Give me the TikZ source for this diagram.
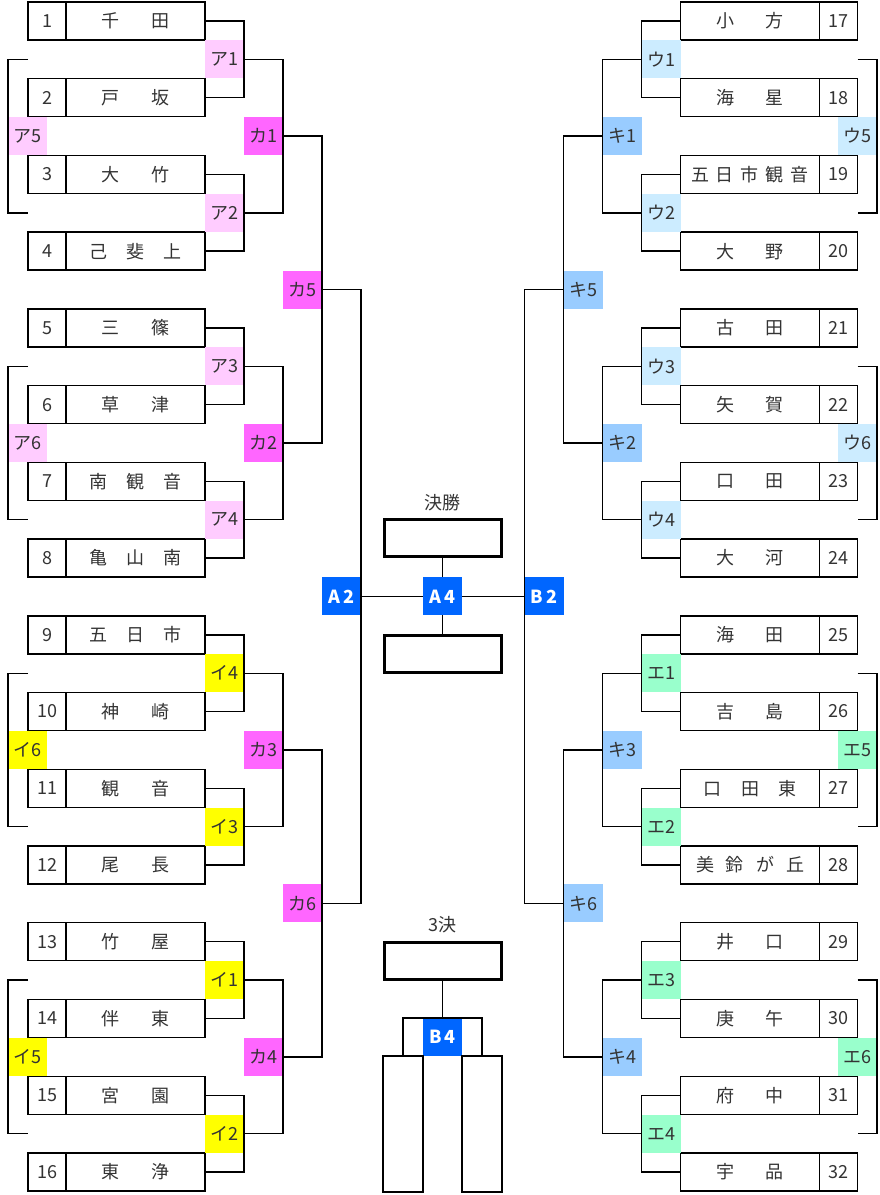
\documentclass[tikz,border=0pt]{standalone}
\usepackage{fontspec}
\setmainfont{Noto Sans CJK JP}
\usepackage{tikz}
\usetikzlibrary{positioning,calc}

\definecolor{clrA}{HTML}{FFCCFF}
\definecolor{clrKa}{HTML}{FF66FF}
\definecolor{clrI}{HTML}{FFFF00}
\definecolor{clrU}{HTML}{CCECFF}
\definecolor{clrKi}{HTML}{99CCFF}
\definecolor{clrE}{HTML}{99FFCC}
\definecolor{clrB}{HTML}{0066FF}

\newcommand{\nameii}[2]{#1\hspace{32pt}#2}
\newcommand{\nameiii}[3]{#1\hspace{19.5pt}#2\hspace{19.5pt}#3}
\newcommand{\nameiv}[4]{#1\hspace{12pt}#2\hspace{12pt}#3\hspace{12pt}#4}
\newcommand{\namev}[5]{#1\hspace{7pt}#2\hspace{7pt}#3\hspace{7pt}#4\hspace{7pt}#5}

\begin{document}
\begin{tikzpicture}[x=1pt,y=-1pt,
  every node/.style={font=\fontsize{18}{21}\selectfont,text=black!80,inner sep=0pt,outer sep=0pt},
  numbox/.style={draw,line width=1.4pt,minimum width=38pt,minimum height=38pt},
  namebox/.style={draw,line width=1.4pt,minimum width=139pt,minimum height=38pt},
  sq/.style={minimum width=39pt,minimum height=38pt},
  blk/.style={sq,fill=clrB,text=white,font=\fontsize{18}{21}\selectfont\bfseries},
  finbox/.style={draw,line width=3pt,minimum width=117pt,minimum height=37pt},
  tallbox/.style={draw,line width=1.4pt,minimum width=40pt,minimum height=136pt},
  link/.style={line width=1.4pt}]
\useasboundingbox (0,0) rectangle (879,1195);
\coordinate (lx) at (8,0);
\coordinate (rx) at (877,0);

% teams, left
\foreach \k/\nm in {1/\nameii{千}{田}, 2/\nameii{戸}{坂}, 3/\nameii{大}{竹}, 4/\nameiii{己}{斐}{上},
  5/\nameii{三}{篠}, 6/\nameii{草}{津}, 7/\nameiii{南}{観}{音}, 8/\nameiii{亀}{山}{南},
  9/\nameiii{五}{日}{市}, 10/\nameii{神}{崎}, 11/\nameii{観}{音}, 12/\nameii{尾}{長},
  13/\nameii{竹}{屋}, 14/\nameii{伴}{東}, 15/\nameii{宮}{園}, 16/\nameii{東}{浄}}{
  \node[numbox] (n\k) at (47,{21+(\k-1)*76.73}) {\k};
  \node[namebox,right=0pt of n\k] (t\k) {\nm};
}
% teams, right
\foreach \k/\nm in {17/\nameii{小}{方}, 18/\nameii{海}{星}, 19/\namev{五}{日}{市}{観}{音}, 20/\nameii{大}{野},
  21/\nameii{古}{田}, 22/\nameii{矢}{賀}, 23/\nameii{口}{田}, 24/\nameii{大}{河},
  25/\nameii{海}{田}, 26/\nameii{吉}{島}, 27/\nameiii{口}{田}{東}, 28/\nameiv{美}{鈴}{が}{丘},
  29/\nameii{井}{口}, 30/\nameii{庚}{午}, 31/\nameii{府}{中}, 32/\nameii{宇}{品}}{
  \node[numbox] (n\k) at (838.5,{21+(\k-17)*76.73}) {\k};
  \node[namebox,left=0pt of n\k] (t\k) {\nm};
}

% first round
\foreach \p/\q/\nm/\lb/\col in {1/2/a1/ア1/clrA, 3/4/a2/ア2/clrA, 5/6/a3/ア3/clrA, 7/8/a4/ア4/clrA,
  9/10/i4/イ4/clrI, 11/12/i3/イ3/clrI, 13/14/i1/イ1/clrI, 15/16/i2/イ2/clrI}{
  \node[sq,fill=\col,anchor=west] (\nm) at ($(t\p.east)!.5!(t\q.east)$) {\lb};
  \draw[link] (t\p.east) -| (\nm.east) |- (t\q.east);
}
\foreach \p/\q/\nm/\lb/\col in {17/18/u1/ウ1/clrU, 19/20/u2/ウ2/clrU, 21/22/u3/ウ3/clrU, 23/24/u4/ウ4/clrU,
  25/26/e1/エ1/clrE, 27/28/e2/エ2/clrE, 29/30/e3/エ3/clrE, 31/32/e4/エ4/clrE}{
  \node[sq,fill=\col,anchor=east] (\nm) at ($(t\p.west)!.5!(t\q.west)$) {\lb};
  \draw[link] (t\p.west) -| (\nm.west) |- (t\q.west);
}

% later rounds
\foreach \p/\q/\nm/\lb in {a1/a2/ka1/カ1, a3/a4/ka2/カ2, i4/i3/ka3/カ3, i1/i2/ka4/カ4,
  ka1/ka2/ka5/カ5, ka3/ka4/ka6/カ6}{
  \node[sq,fill=clrKa,anchor=west] (\nm) at ($(\p.east)!.5!(\q.east)$) {\lb};
  \draw[link] (\p.east) -| (\nm.east) |- (\q.east);
}
\foreach \p/\q/\nm/\lb in {u1/u2/ki1/キ1, u3/u4/ki2/キ2, e1/e2/ki3/キ3, e3/e4/ki4/キ4,
  ki1/ki2/ki5/キ5, ki3/ki4/ki6/キ6}{
  \node[sq,fill=clrKi,anchor=east] (\nm) at ($(\p.west)!.5!(\q.west)$) {\lb};
  \draw[link] (\p.west) -| (\nm.west) |- (\q.west);
}

% consolation
\foreach \p/\q/\r/\nm/\lb/\col in {a1/a2/ka1/a5/ア5/clrA, a3/a4/ka2/a6/ア6/clrA,
  i4/i3/ka3/i6/イ6/clrI, i1/i2/ka4/i5/イ5/clrI}{
  \node[sq,fill=\col,anchor=west] (\nm) at (lx |- \r) {\lb};
  \draw[link] (n1.west |- \p) -| (\nm.west) |- (n1.west |- \q);
}
\foreach \p/\q/\r/\nm/\lb/\col in {u1/u2/ki1/u5/ウ5/clrU, u3/u4/ki2/u6/ウ6/clrU,
  e1/e2/ki3/e5/エ5/clrE, e3/e4/ki4/e6/エ6/clrE}{
  \node[sq,fill=\col,anchor=east] (\nm) at (rx |- \r) {\lb};
  \draw[link] (n17.east |- \p) -| (\nm.east) |- (n17.east |- \q);
}

% final
\node[blk,anchor=west] (A2) at ($(ka5.east)!.5!(ka6.east)$) {A\hspace{3pt}2};
\node[blk,anchor=east] (B2) at ($(ki5.west)!.5!(ki6.west)$) {B\hspace{3pt}2};
\node[blk] (A4) at ($(A2.east)!.5!(B2.west)$) {A\hspace{3pt}4};
\draw[link] (ka5.east) -| (A2.east) |- (ka6.east);
\draw[link] (ki5.west) -| (B2.west) |- (ki6.west);
\node[finbox,above=21pt of A4] (f1) {};
\node[finbox,below=20pt of A4] (f2) {};
\node[above=9pt of f1] (fin) {決勝};
\draw[link] (A2.east) -- (A4.west) (A4.east) -- (B2.west)
  (A4.north) -- (f1.south) (A4.south) -- (f2.north);

% third place
\node[blk] (B4) at (442.5,1037) {B\hspace{3pt}4};
\node[finbox,above=39pt of B4] (f3) {};
\node[above=9pt of f3] (third) {3決};
\node[tallbox,anchor=north east] (s1) at (B4.south west) {};
\node[tallbox,anchor=north west] (s2) at (B4.south east) {};
\draw[link] (f3.south) -- (B4.north);
\draw[link] (s1.north) |- (B4.north) -| (s2.north);
\end{tikzpicture}
\end{document}
